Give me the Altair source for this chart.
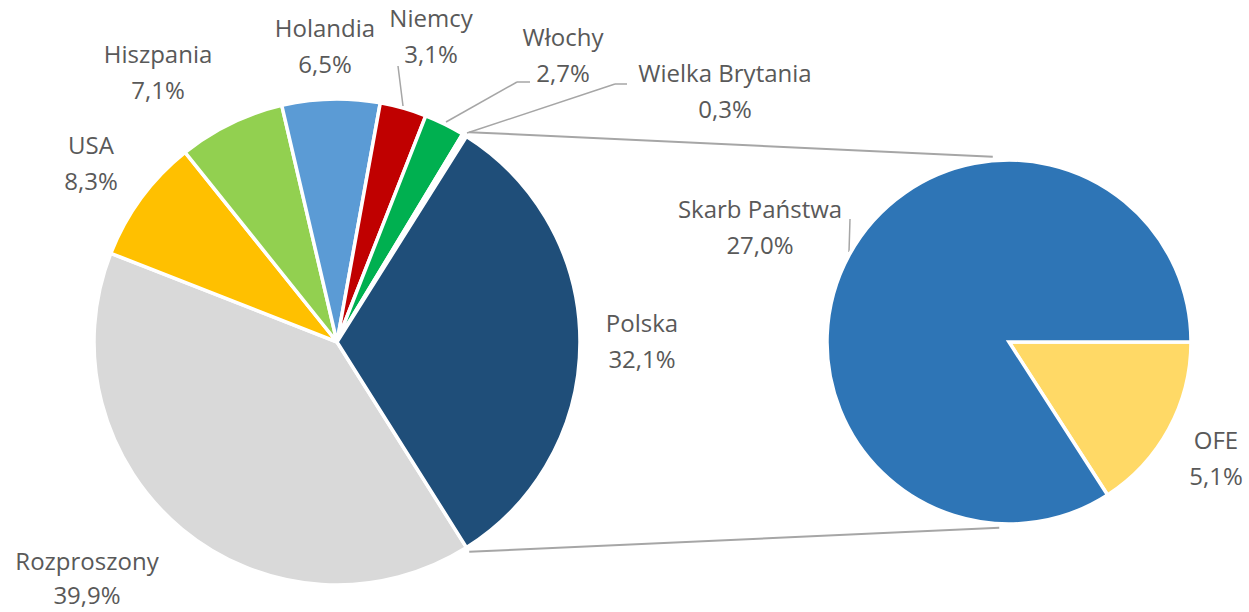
import math
import altair as alt
import pandas as pd

# ---------------- data ----------------
left_names = ["Rozproszony", "USA", "Hiszpania", "Holandia", "Niemcy",
              "Włochy", "Wielka Brytania", "Polska"]
left_values = [39.9, 8.3, 7.1, 6.5, 3.1, 2.7, 0.3, 32.1]
left_colors = ["#D9D9D9", "#FFC000", "#92D050", "#5B9BD5", "#C00000",
               "#00B050", "#FFFFFF", "#1F4E79"]

right_names = ["OFE", "Skarb Państwa"]
right_values = [5.1, 27.0]
right_colors = ["#FFD966", "#2E75B6"]

# ---------------- layout (pixels) ----------------
W, H = 1249, 612
LCX, LCY, LR = 337, 342, 243
RCX, RCY, RR = 1009, 342, 182
TEXT_COLOR = "#595959"
LINE_COLOR = "#A6A6A6"
FONT = "Open Sans"
FS = 24

# centre of the first text line of each label
label_pos = {
    "Rozproszony": (87, 563),
    "USA": (91, 147),
    "Hiszpania": (158, 56),
    "Holandia": (325, 30),
    "Niemcy": (431, 20),
    "Włochy": (563, 39),
    "Wielka Brytania": (725, 75),
    "Polska": (642, 325),
    "OFE": (1216, 442),
    "Skarb Państwa": (760, 211),
}
line_heights = {"Rozproszony": 34}

def pct(v):
    return f"{v:.1f}".replace(".", ",") + "%"

split = left_values[left_names.index("Polska")]
total = sum(left_values)
start_left = math.pi / 2 + split / total * math.pi
start_right = math.pi / 2

left_df = pd.DataFrame({"name": left_names, "value": left_values,
                        "idx": list(range(len(left_names)))})
right_df = pd.DataFrame({"name": right_names, "value": right_values,
                         "idx": list(range(len(right_names)))})

left = alt.Chart(left_df).mark_arc(radius=LR, stroke="white", strokeWidth=3.5).encode(
    theta=alt.Theta("value:Q", stack=True,
                    scale=alt.Scale(domain=[0, total],
                                    range=[start_left, start_left + 2 * math.pi])),
    color=alt.Color("name:N", scale=alt.Scale(domain=left_names, range=left_colors),
                    legend=None),
    order=alt.Order("idx:Q"),
    x=alt.value(LCX), y=alt.value(LCY),
)

right = alt.Chart(right_df).mark_arc(radius=RR, stroke="white", strokeWidth=3.5).encode(
    theta=alt.Theta("value:Q", stack=True,
                    scale=alt.Scale(domain=[0, split],
                                    range=[start_right, start_right + 2 * math.pi])),
    color=alt.Color("name:N", scale=alt.Scale(domain=right_names, range=right_colors),
                    legend=None),
    order=alt.Order("idx:Q"),
    x=alt.value(RCX), y=alt.value(RCY),
)

# connectors from the split slice edges to the secondary pie
a1 = math.pi / 2 - split / total * math.pi
a2 = math.pi / 2 + split / total * math.pi
def pt(cx, cy, r, a):
    return cx + r * math.sin(a), cy - r * math.cos(a)

p1 = pt(LCX, LCY, LR + 5, a1)
p2 = pt(LCX, LCY, LR + 5, a2)
q1 = pt(RCX, RCY, RR + 4, math.radians(-5))
q2 = pt(RCX, RCY, RR + 4, math.radians(183))

conn_df = pd.DataFrame([
    {"x": p1[0], "y": p1[1], "x2": q1[0], "y2": q1[1]},
    {"x": p2[0], "y": p2[1], "x2": q2[0], "y2": q2[1]},
])
connectors = alt.Chart(conn_df).mark_rule(color=LINE_COLOR, strokeWidth=2).encode(
    x=alt.X("x:Q", scale=None), y=alt.Y("y:Q", scale=None),
    x2="x2:Q", y2="y2:Q",
)

leader_df = pd.DataFrame([
    {"x": 398, "y": 66, "x2": 403, "y2": 106},   # Niemcy
    {"x": 446, "y": 122, "x2": 517, "y2": 82},   # Włochy
    {"x": 517, "y": 82, "x2": 530, "y2": 82},
    {"x": 467, "y": 133, "x2": 615, "y2": 84},   # Wielka Brytania
    {"x": 615, "y": 84, "x2": 627, "y2": 84},
    {"x": 850, "y": 219, "x2": 849, "y2": 252},  # Skarb Państwa
])
leaders = alt.Chart(leader_df).mark_rule(color=LINE_COLOR, strokeWidth=1.5).encode(
    x=alt.X("x:Q", scale=None), y=alt.Y("y:Q", scale=None),
    x2="x2:Q", y2="y2:Q",
)

rows = []
for n, v in zip(left_names + right_names, left_values + right_values):
    lx, ly = label_pos[n]
    rows.append({"label": n + "\n" + pct(v), "lx": lx, "ly": ly,
                 "lh": line_heights.get(n, 36)})
lab_df = pd.DataFrame(rows)

def text_layer(df):
    lh = int(df["lh"].iloc[0])
    return alt.Chart(df).mark_text(
        font=FONT, fontSize=FS, color=TEXT_COLOR, align="center", baseline="middle",
        lineBreak="\n", lineHeight=lh,
    ).encode(
        x=alt.X("lx:Q", scale=None), y=alt.Y("ly:Q", scale=None), text="label:N",
    )

label_layers = [text_layer(g) for _, g in lab_df.groupby("lh")]

chart = alt.layer(connectors, leaders, left, right, *label_layers).resolve_scale(
    theta="independent", color="independent"
).properties(
    width=W, height=H, autosize=alt.AutoSizeParams(type="none"), padding=0,
    background="white",
).configure_view(stroke=None)

chart.save("out.html", embed_options={"renderer": "svg", "actions": False})
